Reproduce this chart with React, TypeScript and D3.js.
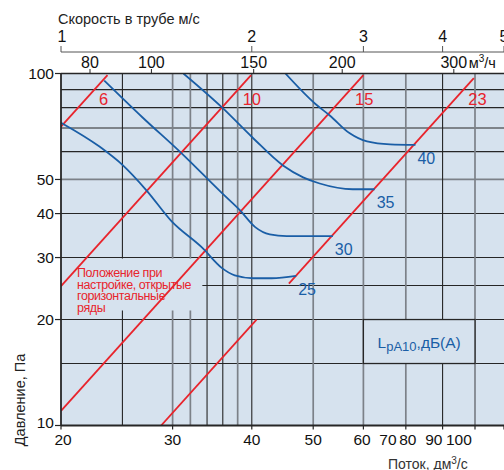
import React from "react";
import * as d3 from "d3";

const W = 504;
const H = 470;

// Grid values (flow dm³/s, pressure Pa)
const flowGrid = [25, 30, 32, 34, 36, 38, 40, 50, 60, 70, 80, 90];
const flowGridGray = [30, 32, 38, 50, 60, 70, 90];
const pressureGrid = [90, 80, 70, 60, 50, 40, 30, 25, 20, 15];
const pressureGridGray = [50];
const pressureTicks = [100, 50, 40, 30, 20, 10];

// Bottom axis: tick values and printed labels (printed labels are crowded to the left in the original)
const flowTicks = [20, 30, 40, 50, 60, 70, 80, 90, 100];
const flowTickLabels = ["20", "30", "40", "50", "60", "70", "80", "90", "100"];
const flowLabelAt = [20, 30, 40, 50, 59.7, 65.6, 70.5, 77.5, 84.9];

// Top axes
const velocityTicks = [1, 2, 3, 4, 5]; // m/s, duct area 0.02 m²
const ductArea = 0.02;
const m3hTicks = [80, 100, 145, 200, 300];
const m3hLabels = ["80", "100", "150", "200", "300"];

// Damper settings: red lines p = 100 * (q / qAt100)^2
const damperLabels = ["6", "10", "15", "23"];
const damperQAt100 = [23.8, 40.1, 60.3, 91];

// Sound level curves LpA10, dB(A)
const levelLabels = ["25", "30", "35", "40"];
const level25: [number, number][] = [[20, 72.5], [23, 62], [25, 55], [27.3, 46.5], [29.9, 38], [33.4, 32], [35.9, 28], [37.6, 26.7], [40.2, 26.2], [43, 26.2], [47, 26.6]];
const level30: [number, number][] = [[23.4, 95.5], [26.9, 75], [31, 59.3], [35.9, 45.7], [38.3, 40.9], [40.5, 36.6], [42.7, 34.9], [45.4, 34.5], [53.7, 34.5]];
const level35: [number, number][] = [[31.2, 100], [35.9, 80.1], [40.1, 65.8], [44.8, 54.8], [48.2, 50.7], [51.2, 48.7], [57.7, 46.9], [62.5, 46.9]];
const level40: [number, number][] = [[45.2, 100], [50.3, 82.2], [53.1, 76], [57.1, 67.6], [60.8, 64.1], [66.1, 62.9], [72.5, 62.7]];
const levels = [level25, level30, level35, level40];

const noteLines = ["Положение при", "настройке, открытые", "горизонтальные", "ряды"];

const RED = "#e8242c";
const BLUE = "#1a5ea6";
const BG = "#d6e2ee";
const DARK = "#262626";
const GRAY = "#7c8188";
const FONT = "'Liberation Sans', Arial, sans-serif";
const NARROW = "'Liberation Sans Narrow', 'Liberation Sans', Arial, sans-serif";

export default function App() {
  const x = d3.scaleLog().domain([20, 100]).range([61, 504]);
  const y = d3.scaleLog().domain([10, 100]).range([425.5, 73.5]);
  const x0 = x(20), x1 = x(100), y0 = y(10), y1 = y(100);

  const line = d3
    .line<[number, number]>()
    .x((d) => x(d[0]))
    .y((d) => y(d[1]))
    .curve(d3.curveMonotoneX);

  const damperPoint = (qa: number, p: number): [number, number] => [qa * Math.sqrt(p / 100), p];
  const damperSegs = damperQAt100.map((qa, i) => {
    const top = i === 3 ? 97 : 99;
    const pLeft = 100 * Math.pow(20 / qa, 2);
    const bottom = Math.max(10, pLeft);
    if (i === 3) {
      return [
        [damperPoint(qa, top), damperPoint(qa, 25.3)],
        [damperPoint(qa, 20), damperPoint(qa, bottom)],
      ];
    }
    return [[damperPoint(qa, top), damperPoint(qa, bottom)]];
  });

  return (
    <svg width={W} height={H} style={{ position: "fixed", left: 0, top: 0, background: "#fff" }} fontFamily={FONT}>
      <defs>
        <clipPath id="plot">
          <rect x={x0} y={y1} width={x1 - x0} height={y0 - y1} />
        </clipPath>
      </defs>
      <rect x={x0} y={y1} width={x1 - x0} height={y0 - y1} fill={BG} />

      {/* grid */}
      {pressureGrid.map((p) => (
        <line key={"h" + p} x1={x0} x2={x1} y1={y(p)} y2={y(p)}
          stroke={pressureGridGray.includes(p) ? GRAY : DARK}
          strokeWidth={pressureGridGray.includes(p) ? 1.8 : 1.1} />
      ))}
      {flowGrid.map((q) => (
        <line key={"v" + q} x1={x(q)} x2={x(q)} y1={y1} y2={y0}
          stroke={flowGridGray.includes(q) ? GRAY : DARK}
          strokeWidth={flowGridGray.includes(q) ? 1.7 : 1.1} />
      ))}

      {/* legend box */}
      <rect x={x(60)} y={y(20)} width={x(90) - x(60)} height={y(15) - y(20)} fill={BG} stroke={DARK} strokeWidth={1.3} />
      <text x={(x(60) + x(90)) / 2} y={(y(20) + y(15)) / 2 + 6} textAnchor="middle" fill={BLUE} fontSize={15.5}>
        <tspan>L</tspan>
        <tspan fontSize={13} dy={3}>pA10</tspan>
        <tspan dy={-3}>,дБ(A)</tspan>
      </text>

      {/* note block */}
      <rect x={x0 + 1} y={y(31) + 6} width={x(33.3) - x0} height={y(21.5) - y(31) - 4} fill={BG} />
      {noteLines.map((t, i) => (
        <text key={t} x={77} y={277 + i * 11.7} fill={RED} fontSize={12.5} fontFamily={NARROW} letterSpacing={-0.4}>
          {t}
        </text>
      ))}

      {/* damper lines */}
      <g clipPath="url(#plot)">
        {damperSegs.map((segs, i) =>
          segs.map((s, j) => (
            <line key={i + "-" + j} x1={x(s[0][0])} y1={y(s[0][1])} x2={x(s[1][0])} y2={y(s[1][1])} stroke={RED} strokeWidth={1.8} />
          ))
        )}
        {levels.map((d, i) => (
          <path key={"l" + i} d={line(d) || ""} fill="none" stroke={BLUE} strokeWidth={1.8} />
        ))}
      </g>
      {damperQAt100.map((qa, i) => {
        const pt = damperPoint(qa, 86.6);
        return (
          <text key={"dl" + i} x={x(pt[0]) + 10} y={105} fill={RED} fontSize={16.5} fontFamily={NARROW}>
            {damperLabels[i]}
          </text>
        );
      })}
      {levels.map((d, i) => {
        const end = d[d.length - 1];
        return (
          <text key={"ll" + i} x={x(end[0]) + 2} y={y(end[1]) + 19} fill={BLUE} fontSize={16} fontFamily={NARROW}>
            {levelLabels[i]}
          </text>
        );
      })}

      {/* axes frame */}
      <line x1={x0} x2={x1} y1={y1} y2={y1} stroke={DARK} strokeWidth={1.3} />
      <line x1={x0} x2={x0} y1={y1} y2={y0} stroke={DARK} strokeWidth={1.8} />
      <line x1={x0} x2={x1} y1={y0} y2={y0} stroke={DARK} strokeWidth={2.2} />

      {/* left axis */}
      {pressureTicks.map((p) => (
        <g key={"yt" + p}>
          <line x1={x0 - 6} x2={x0} y1={y(p)} y2={y(p)} stroke={DARK} strokeWidth={1.2} />
          <text x={x0 - 7} y={y(p) + 5.5 - (p === 10 ? 3 : 0)} textAnchor="end" fontSize={15.5} fill="#111">
            {p}
          </text>
        </g>
      ))}
      <text transform={`translate(25, ${y(17.5) + 60}) rotate(-90)`} textAnchor="middle" fontSize={14.5} fill="#222">
        Давление, Па
      </text>

      {/* bottom axis */}
      {flowTicks.map((q, i) => (
        <g key={"xt" + q}>
          <line x1={x(q)} x2={x(q)} y1={y0} y2={y0 + 4} stroke={DARK} strokeWidth={1.2} />
          <text x={x(flowLabelAt[i]) + (i === 0 ? 2 : 0)} y={445} textAnchor="middle" fontSize={15.5} fill="#111">
            {flowTickLabels[i]}
          </text>
        </g>
      ))}
      <text x={388} y={469} fontSize={14} fill="#333">
        Поток, дм<tspan fontSize={10} dy={-5}>3</tspan><tspan dy={5}>/с</tspan>
      </text>

      {/* top axes */}
      <text x={58} y={24} fontSize={14.5} fill="#222">Скорость в трубе м/с</text>
      <line x1={x0} x2={x1} y1={52} y2={52} stroke="#555" strokeWidth={1} />
      {velocityTicks.map((v) => {
        const q = (v * ductArea) * 1000;
        return (
          <g key={"vt" + v}>
            <line x1={x(q)} x2={x(q)} y1={46} y2={52} stroke="#555" strokeWidth={1} />
            <text x={x(q) + (v === 1 ? 1 : 0)} y={42} textAnchor="middle" fontSize={16} fill="#111">
              {v}
            </text>
          </g>
        );
      })}
      {m3hTicks.map((m, i) => {
        const q = m / 3.6;
        const last = i === m3hTicks.length - 1;
        return (
          <g key={"mt" + m}>
            <line x1={x(q)} x2={x(q)} y1={69} y2={y1} stroke={DARK} strokeWidth={1} />
            <text x={x(q)} y={68} textAnchor="middle" fontSize={16} fill="#111">
              {m3hLabels[i]}
            </text>
            {last && (
              <text x={x(q) + 15} y={68} fontSize={14.5} fill="#111">
                м<tspan fontSize={10} dy={-6}>3</tspan><tspan dy={6}>/ч</tspan>
              </text>
            )}
          </g>
        );
      })}
    </svg>
  );
}
